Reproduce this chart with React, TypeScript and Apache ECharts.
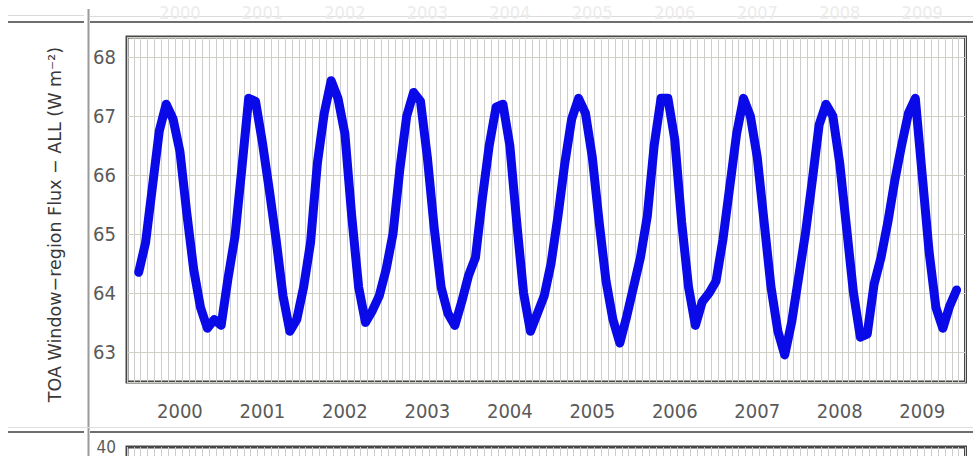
import { useEffect, useRef } from "react";
import * as echarts from "echarts";

// Year labels along the time axis
const YEARS = ["2000", "2001", "2002", "2003", "2004", "2005", "2006", "2007", "2008", "2009"];

// Monthly TOA window-region flux, all-sky (W m-2), Jan..Dec of each year
const FLUX_2000 = [64.35, 64.85, 65.8, 66.75, 67.2, 66.95, 66.4, 65.35, 64.4, 63.75, 63.4, 63.55];
const FLUX_2001 = [63.45, 64.25, 64.95, 66.1, 67.3, 67.25, 66.55, 65.75, 64.9, 63.95, 63.35, 63.55];
const FLUX_2002 = [64.1, 64.85, 66.2, 67.05, 67.6, 67.3, 66.7, 65.3, 64.1, 63.5, 63.7, 63.95];
const FLUX_2003 = [64.4, 65.0, 66.1, 67.0, 67.4, 67.25, 66.3, 65.1, 64.1, 63.65, 63.45, 63.85];
const FLUX_2004 = [64.3, 64.6, 65.6, 66.5, 67.15, 67.2, 66.5, 65.2, 64.0, 63.35, 63.65, 63.95];
const FLUX_2005 = [64.5, 65.3, 66.2, 66.95, 67.3, 67.05, 66.3, 65.2, 64.2, 63.55, 63.15, 63.6];
const FLUX_2006 = [64.1, 64.6, 65.3, 66.5, 67.3, 67.3, 66.6, 65.2, 64.1, 63.45, 63.85, 64.0];
const FLUX_2007 = [64.2, 64.9, 65.8, 66.7, 67.3, 67.0, 66.3, 65.2, 64.1, 63.35, 62.95, 63.5];
const FLUX_2008 = [64.25, 65.0, 65.9, 66.85, 67.2, 67.0, 66.2, 65.1, 64.0, 63.25, 63.3, 64.15];
const FLUX_2009 = [64.6, 65.2, 65.9, 66.5, 67.05, 67.3, 66.0, 64.7, 63.75, 63.4, 63.78, 64.05];

// Tick labels
const Y_TICKS = [63, 64, 65, 66, 67, 68];
const LOWER_Y_TICKS = [40];

const Y_TITLE = "TOA Window\u2212region Flux \u2212 ALL (W m\u207b\u00b2)";

const FLUX = [
  ...FLUX_2000, ...FLUX_2001, ...FLUX_2002, ...FLUX_2003, ...FLUX_2004,
  ...FLUX_2005, ...FLUX_2006, ...FLUX_2007, ...FLUX_2008, ...FLUX_2009,
];

// x axis is measured in months; the first month sits a little inside the frame
const MONTH0 = 1.7;
const X_MAX = 122;
const YEAR_CENTRES = YEARS.map((_, k) => MONTH0 + 6 + 12 * k);
const yearLabel = (v: number) => YEARS[Math.round((v - MONTH0 - 6) / 12)] ?? "";

const LABEL_FONT = "'DejaVu Sans Condensed', 'Liberation Sans', sans-serif";
const LABEL_COLOR = "#5a5a5a";
const FRAME = "#474747";
const RULE_DARK = "#6e6e6e";

const monthLines = { show: true, lineStyle: { color: "#cdcdcd", width: 1 } };
const hidden = { show: false };

function buildOption(): any {
  return {
    animation: false,
    backgroundColor: "#ffffff",
    grid: [
      {
        left: 127, right: 7.5, top: 37, bottom: 74,
        show: true, borderColor: FRAME, borderWidth: 3, backgroundColor: "#ffffff",
        containLabel: false, outerBoundsMode: "none",
      },
      {
        left: 127, right: 7.5, top: 447, height: 300,
        show: true, borderColor: FRAME, borderWidth: 3, backgroundColor: "#ffffff",
        containLabel: false, outerBoundsMode: "none",
      },
    ],
    xAxis: [
      {
        type: "value", gridIndex: 0, min: 0, max: X_MAX, interval: 1,
        axisLine: hidden, axisTick: hidden, splitLine: monthLines,
        axisLabel: {
          customValues: YEAR_CENTRES, formatter: yearLabel,
          color: LABEL_COLOR, fontSize: 20, fontFamily: LABEL_FONT,
          margin: 29, verticalAlign: "middle",
        },
      },
      {
        // faded year labels of the panel above
        type: "value", gridIndex: 0, position: "top", min: 0, max: X_MAX, interval: 1,
        axisLine: hidden, axisTick: hidden, splitLine: hidden,
        axisLabel: {
          customValues: YEAR_CENTRES, formatter: yearLabel,
          color: "#ececec", fontSize: 18, fontFamily: LABEL_FONT,
          margin: 25, verticalAlign: "middle",
        },
      },
      {
        type: "value", gridIndex: 1, min: 0, max: X_MAX, interval: 1,
        axisLine: hidden, axisTick: hidden, splitLine: monthLines, axisLabel: hidden,
      },
    ],
    yAxis: [
      {
        type: "value", gridIndex: 0, min: 62.49, max: 68.34,
        axisLine: hidden, axisTick: hidden,
        splitLine: { show: true, lineStyle: { color: "#d0d0c4", width: 1 } },
        axisLabel: {
          customValues: Y_TICKS, color: LABEL_COLOR, fontSize: 20,
          fontFamily: LABEL_FONT, margin: 11,
        },
      },
      {
        type: "value", gridIndex: 1, min: 0, max: 40,
        axisLine: hidden, axisTick: hidden, splitLine: hidden,
        axisLabel: {
          customValues: LOWER_Y_TICKS, color: LABEL_COLOR, fontSize: 17,
          fontFamily: LABEL_FONT, margin: 11,
        },
      },
    ],
    series: [
      {
        type: "line",
        xAxisIndex: 0,
        yAxisIndex: 0,
        data: FLUX.map((v, i) => [MONTH0 + i, v]),
        symbol: "none",
        showSymbol: false,
        z: 3,
        lineStyle: { color: "#0a0ae8", width: 9, cap: "round", join: "round" },
      },
    ],
    graphic: [
      { type: "line", shape: { x1: 8, y1: 15.5, x2: 84, y2: 15.5 }, style: { stroke: "#d9d9d9", lineWidth: 1 } },
      { type: "line", shape: { x1: 90, y1: 16.5, x2: 973, y2: 16.5 }, style: { stroke: "#dcdcdc", lineWidth: 1 } },
      { type: "line", shape: { x1: 8, y1: 22, x2: 84, y2: 22 }, style: { stroke: RULE_DARK, lineWidth: 2 } },
      { type: "line", shape: { x1: 90, y1: 22, x2: 973, y2: 22 }, style: { stroke: RULE_DARK, lineWidth: 2 } },
      { type: "line", shape: { x1: 88.5, y1: 9, x2: 88.5, y2: 456 }, style: { stroke: "#9a9a9a", lineWidth: 2 } },
      { type: "line", shape: { x1: 8, y1: 427.5, x2: 973, y2: 427.5 }, style: { stroke: "#dedede", lineWidth: 1 } },
      { type: "line", shape: { x1: 8, y1: 432, x2: 84, y2: 432 }, style: { stroke: RULE_DARK, lineWidth: 2 } },
      { type: "line", shape: { x1: 90, y1: 432, x2: 973, y2: 432 }, style: { stroke: RULE_DARK, lineWidth: 2 } },
      {
        type: "text",
        x: 55,
        y: 224.5,
        rotation: Math.PI / 2,
        style: {
          text: Y_TITLE,
          fontSize: 17.5,
          fontFamily: "'DejaVu Sans', sans-serif",
          fill: "#383838",
          align: "center",
          verticalAlign: "middle",
          textAlign: "center",
          textVerticalAlign: "middle",
        },
      },
    ],
  };
}

export default function App() {
  const ref = useRef<HTMLDivElement>(null);

  useEffect(() => {
    if (!ref.current) return;
    const chart = echarts.init(ref.current, undefined, { renderer: "svg" });
    chart.setOption(buildOption());
    return () => chart.dispose();
  }, []);

  return (
    <div
      ref={ref}
      style={{ position: "fixed", left: 0, top: 0, width: 973, height: 456, background: "#ffffff" }}
    />
  );
}
